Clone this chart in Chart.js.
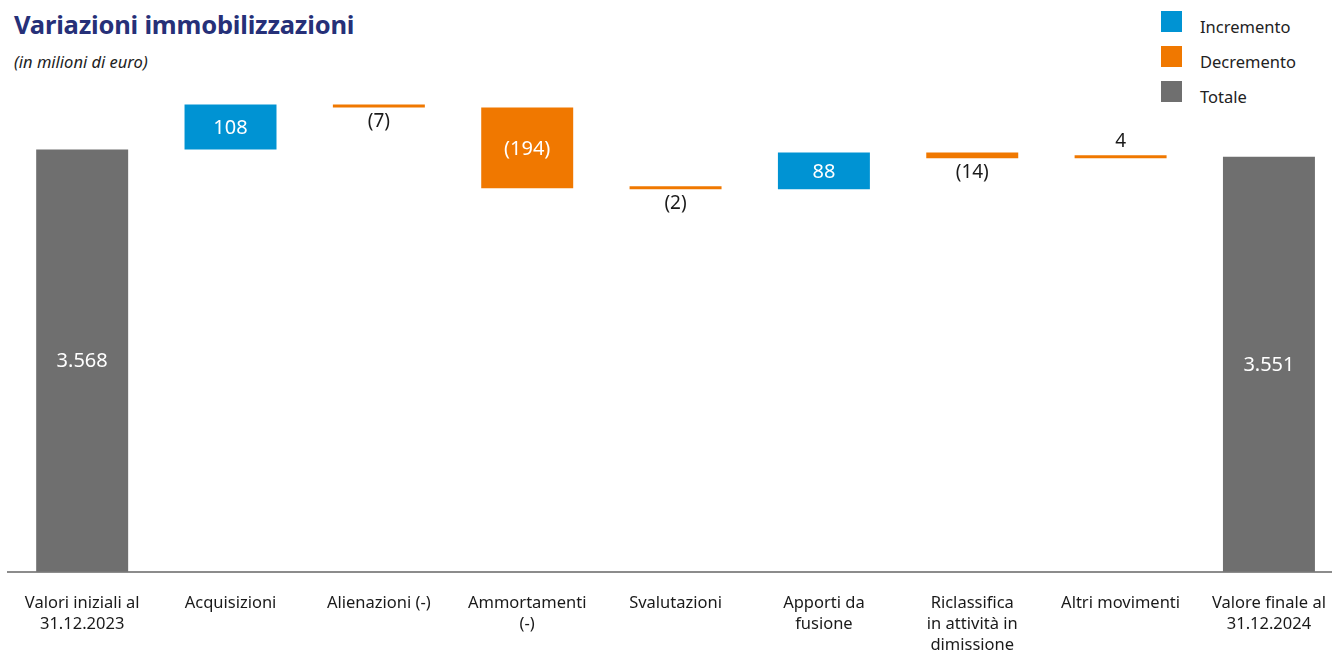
<!DOCTYPE html>
<html lang="it">
<head>
<meta charset="utf-8">
<title>Variazioni immobilizzazioni</title>
<script src="https://cdn.jsdelivr.net/npm/chart.js@4.4.1/dist/chart.umd.min.js"></script>
<style>
    html, body { margin: 0; padding: 0; background: #fff; overflow: hidden; width: 1332px; height: 650px; }
    body { position: relative; font-family: 'Noto Sans', sans-serif; }
    .title { position: absolute; left: 14px; top: 7px; font-size: 25.5px; font-weight: 700; color: #263078; letter-spacing: -0.2px; }
    .subtitle { position: absolute; left: 14px; top: 50px; font-size: 16.5px; font-style: italic; color: #222; }
    .legend { position: absolute; left: 1161px; top: 11px; }
    .legend div { position: relative; height: 21px; margin-bottom: 14px; padding-left: 39px; font-size: 16.5px; line-height: 31px; color: #222; }
    .legend span { position: absolute; left: 0; top: 0; width: 21px; height: 21px; }
    #wrap { position: absolute; left: 0; top: 0; width: 1347px; height: 677px; }
</style>
</head>
<body>
<div class="title">Variazioni immobilizzazioni</div>
<div class="subtitle">(in milioni di euro)</div>
<div class="legend">
    <div><span style="background:#0093d3"></span>Incremento</div>
    <div><span style="background:#f07800"></span>Decremento</div>
    <div><span style="background:#6f6f6f"></span>Totale</div>
</div>
<div id="wrap"><canvas id="chart"></canvas></div>
<script>
// ------------------------------------------------------------
// Data
// ------------------------------------------------------------
const categories = [
    ['Valori iniziali al', '31.12.2023'],
    'Acquisizioni',
    'Alienazioni (-)',
    ['Ammortamenti', '(-)'],
    'Svalutazioni',
    ['Apporti da', 'fusione'],
    ['Riclassifica', 'in attività in', 'dimissione'],
    'Altri movimenti',
    ['Valore finale al', '31.12.2024'],
];
const values = [3568, 108, -7, -194, -2, 88, -14, 4, 3551];
const kinds = ['total', 'inc', 'dec', 'dec', 'dec', 'inc', 'dec', 'dec', 'total'];

const COLORS = { inc: '#0093d3', dec: '#f07800', total: '#6f6f6f' };

// build floating ranges for the waterfall
let running = 0;
const ranges = values.map((v, i) => {
    if (kinds[i] === 'total') {
        running = v;
        return [0, v];
    }
    const start = running;
    running += v;
    return [start, running];
});

function fmt(v) {
    const s = String(Math.abs(v)).replace(/\B(?=(\d{3})+(?!\d))/g, '.');
    return v < 0 ? '(' + s + ')' : s;
}

/**
 * Value labels: inside big bars, outside thin ones
 */
const valueLabels = {
    id: 'valueLabels',
    afterDatasetsDraw(chart) {
        const { ctx, chartArea } = chart;
        const meta = chart.getDatasetMeta(0);
        ctx.save();
        ctx.textAlign = 'center';
        ctx.textBaseline = 'middle';
        meta.data.forEach((bar, i) => {
            const top = Math.min(bar.y, bar.base);
            const bottom = Math.min(Math.max(bar.y, bar.base), chartArea.bottom);
            const h = bottom - top;
            const v = values[i];
            if (h > 25) {
                ctx.fillStyle = '#ffffff';
                ctx.font = '20px "Noto Sans", sans-serif';
                ctx.fillText(fmt(v), bar.x, (top + bottom) / 2 + 1);
            } else {
                ctx.fillStyle = '#1a1a1a';
                ctx.font = '19px "Noto Sans", sans-serif';
                if (v < 0) ctx.fillText(fmt(v), bar.x, bottom + 14);
                else ctx.fillText(fmt(v), bar.x, top - 14);
            }
        });
        ctx.restore();
    },
};

new Chart(document.getElementById('chart').getContext('2d'), {
    type: 'bar',
    data: {
        labels: categories,
        datasets: [{
            data: ranges,
            backgroundColor: kinds.map(k => COLORS[k]),
            borderWidth: 0,
            barPercentage: 0.62,
            categoryPercentage: 1,
            minBarLength: 3,
        }],
    },
    options: {
        responsive: true,
        maintainAspectRatio: false,
        animation: false,
        layout: { padding: { top: 90, left: 8, right: 2, bottom: 0 } },
        plugins: {
            legend: { display: false },
            tooltip: { enabled: false },
        },
        scales: {
            x: {
                grid: { display: false, drawTicks: false },
                border: { display: true, color: '#8c8c8c', width: 2 },
                ticks: {
                    color: '#1a1a1a',
                    padding: 21,
                    maxRotation: 0,
                    autoSkip: false,
                    font: { family: "'Noto Sans', sans-serif", size: 16.5, lineHeight: 1.28 },
                },
            },
            y: {
                display: false,
                min: 2555,
                max: 3711,
            },
        },
    },
    plugins: [valueLabels],
});
</script>
</body>
</html>
